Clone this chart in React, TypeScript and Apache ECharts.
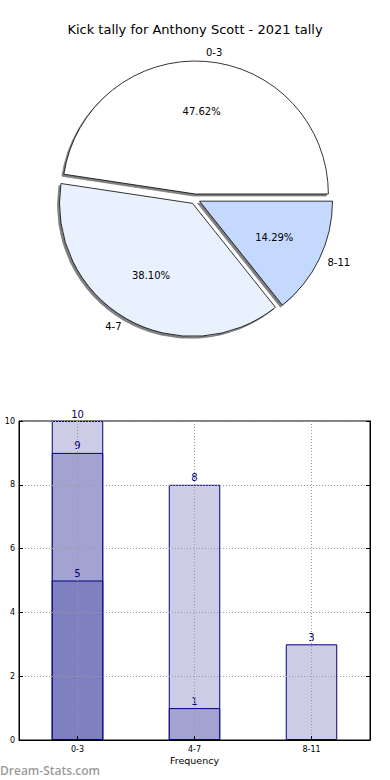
import React, { useEffect, useRef } from "react";
import * as echarts from "echarts";

const chartTitle = "Kick tally for Anthony Scott - 2021 tally";

// Pie data
const sliceLabels = ["0-3", "4-7", "8-11"];
const sliceValues = [10, 8, 3];
const sliceColors = ["#ffffff", "#eaf1fe", "#c5d8fe"];

// Bar data (overlapping bars, cumulative heights)
const categories = ["0-3", "4-7", "8-11"];
const backValues: (number | null)[] = [10, 8, 3];
const midValues: (number | null)[] = [9, 1, null];
const frontValues: (number | null)[] = [5, null, null];

const xAxisTitle = "Frequency";
const yAxisTitle = "Occurrences";
const watermark = "Dream-Stats.com";

const FONT = "DejaVu Sans";

export default function App() {
  const ref = useRef<HTMLDivElement>(null);

  useEffect(() => {
    document.body.style.margin = "0";
    const chart = echarts.init(ref.current!, null, { renderer: "svg" });
    const total = sliceValues.reduce((a, b) => a + b, 0);

    const pieCommon = {
      type: "pie",
      center: [195, 199],
      startAngle: 0,
      clockwise: false,
      selectedMode: "multiple",
      selectedOffset: 5,
      avoidLabelOverlap: false,
      emphasis: { disabled: true },
    };

    const barCommon = {
      type: "bar",
      xAxisIndex: 0,
      yAxisIndex: 0,
      barWidth: "44%",
      barGap: "-100%",
      emphasis: { disabled: true },
      label: {
        show: true,
        position: "top",
        distance: 2,
        color: "#000080",
        fontSize: 10,
        fontFamily: FONT,
      },
    };

    const dotted = { type: [1, 2], color: "#9a9a9a", width: 1 };

    chart.setOption({
      animation: false,
      textStyle: { fontFamily: FONT },
      title: {
        text: chartTitle,
        left: "center",
        top: 23,
        padding: 0,
        textStyle: { fontSize: 13, fontWeight: "normal", color: "#000", fontFamily: FONT },
      },
      grid: {
        left: 19,
        right: 20,
        top: 421,
        bottom: 40,
        outerBoundsMode: "none",
        containLabel: false,
        show: true,
        borderColor: "#000",
        borderWidth: 1,
        backgroundColor: "transparent",
      },
      xAxis: {
        type: "category",
        data: categories,
        z: 3,
        axisLine: { show: true, lineStyle: { color: "#000", width: 1 } },
        axisTick: { show: true, inside: true, alignWithLabel: true, length: 4, lineStyle: { color: "#000" } },
        axisLabel: { fontSize: 8, color: "#000", margin: 5, fontFamily: FONT },
        splitLine: { show: true, alignWithLabel: true, lineStyle: dotted },
        name: xAxisTitle,
        nameLocation: "middle",
        nameGap: 15,
        nameTextStyle: { fontSize: 9.5, color: "#000", fontFamily: FONT },
      },
      yAxis: [
        {
          type: "value",
          position: "left",
          min: 0,
          max: 10,
          interval: 2,
          z: 3,
          axisLine: { show: true, lineStyle: { color: "#000", width: 1 } },
          axisTick: { show: true, inside: true, length: 4, lineStyle: { color: "#000" } },
          axisLabel: { fontSize: 8, color: "#000", margin: 4, fontFamily: FONT },
          splitLine: { show: true, lineStyle: dotted },
          name: yAxisTitle,
          nameLocation: "middle",
          nameRotate: 90,
          nameGap: 22,
          nameTextStyle: { fontSize: 9, color: "#000", fontFamily: FONT },
        },
        {
          type: "value",
          position: "right",
          min: 0,
          max: 10,
          interval: 2,
          z: 3,
          axisLine: { show: true, lineStyle: { color: "#000", width: 1 } },
          axisTick: { show: true, inside: true, length: 4, lineStyle: { color: "#000" } },
          axisLabel: { show: false },
          splitLine: { show: false },
        },
      ],
      series: [
        {
          ...pieCommon,
          radius: [0, 133],
          z: 2,
          data: sliceLabels.map((name, i) => ({
            name,
            value: sliceValues[i],
            selected: true,
            itemStyle: { color: sliceColors[i] },
          })),
          itemStyle: {
            borderColor: "#000",
            borderWidth: 0.8,
            shadowColor: "rgba(0,0,0,0.5)",
            shadowBlur: 0,
            shadowOffsetX: -2,
            shadowOffsetY: 2,
          },
          select: { itemStyle: { borderColor: "#000", borderWidth: 0.8 } },
          label: {
            show: true,
            position: "outside",
            formatter: "{b}",
            fontSize: 10,
            color: "#000",
            fontFamily: FONT,
            distanceToLabelLine: 0,
          },
          labelLine: { show: false, length: 9, length2: 0 },
        },
        {
          ...pieCommon,
          radius: [0, 160],
          z: 3,
          silent: true,
          data: sliceLabels.map((name, i) => ({ name, value: sliceValues[i], selected: true })),
          itemStyle: { color: "rgba(0,0,0,0)", borderWidth: 0 },
          select: { itemStyle: { color: "rgba(0,0,0,0)", borderWidth: 0 } },
          label: {
            show: true,
            position: "inside",
            fontSize: 10,
            color: "#000",
            fontFamily: FONT,
            formatter: (p: any) => ((p.value / total) * 100).toFixed(2) + "%",
          },
          labelLine: { show: false },
        },
        {
          ...barCommon,
          name: "all",
          data: backValues,
          itemStyle: { color: "#ccccE6", borderColor: "#000080", borderWidth: 1 },
        },
        {
          ...barCommon,
          name: "mid",
          data: midValues,
          itemStyle: { color: "#a3a3d1", borderColor: "#000080", borderWidth: 1 },
        },
        {
          ...barCommon,
          name: "front",
          data: frontValues,
          itemStyle: { color: "#8080c0", borderColor: "#000080", borderWidth: 1 },
        },
      ],
      graphic: [
        {
          type: "text",
          left: 0,
          top: 764,
          style: {
            text: watermark,
            fill: "#9a9a9a",
            font: '600 12px "Open Sans"',
          },
        },
      ],
    });

    return () => chart.dispose();
  }, []);

  return <div ref={ref} style={{ width: 390, height: 780 }} />;
}
